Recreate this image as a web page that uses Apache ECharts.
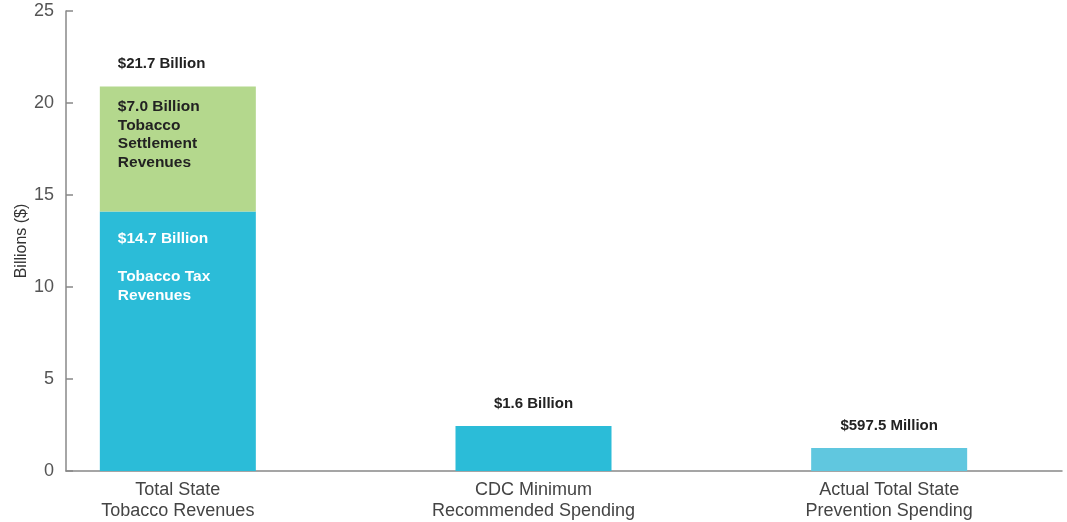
<!DOCTYPE html>
<html>
<head>
<meta charset="utf-8">
<script src="https://cdn.jsdelivr.net/npm/echarts@6/dist/echarts.min.js"></script>
<style>
  html, body { margin: 0; padding: 0; background: #fff; }
  #chartsDiv { width: 1067px; height: 522px; }
</style>
</head>
<body>
<div id="chartsDiv"></div>
<script>
// data
var categories = ['Total State\nTobacco Revenues', 'CDC Minimum\nRecommended Spending', 'Actual Total State\nPrevention Spending']
var taxValues = [14.1, '-', '-']
var settlementValues = [6.8, '-', '-']
var spendingValues = ['-', 2.45, 1.25]
var totalLabels = ['$21.7 Billion', '$1.6 Billion', '$597.5 Million']
var taxLabel = '$14.7 Billion\n\nTobacco Tax\nRevenues'
var settlementLabel = '$7.0 Billion\nTobacco\nSettlement\nRevenues'
var yTicks = { min: 0, max: 25, interval: 5 }

var font = 'Liberation Sans, Arial, Helvetica, sans-serif'
var realChart = echarts.init(document.getElementById('chartsDiv'), null, { renderer: 'canvas' })

var option = {
  backgroundColor: '#fff',
  animation: false,
  grid: [
    // axes frame
    { left: 66, right: 5, top: 11, bottom: 51 },
    // bars, full width so the categories spread like in the picture
    { left: 0, right: 0, top: 11, bottom: 51 }
  ],
  xAxis: [
    {
      gridIndex: 0,
      type: 'value',
      min: 0,
      max: 1,
      axisLine: { show: true, lineStyle: { color: '#888', width: 1.5 } },
      axisTick: { show: false },
      axisLabel: { show: false },
      splitLine: { show: false }
    },
    {
      gridIndex: 1,
      type: 'category',
      data: categories,
      axisLine: { show: false },
      axisTick: { show: false },
      axisLabel: {
        margin: 9,
        color: '#444',
        fontFamily: font,
        fontSize: 18,
        lineHeight: 21
      }
    }
  ],
  yAxis: [
    {
      gridIndex: 0,
      type: 'value',
      min: yTicks.min,
      max: yTicks.max,
      interval: yTicks.interval,
      name: 'Billions ($)',
      nameLocation: 'middle',
      nameGap: 36,
      nameMoveOverlap: false,
      nameTextStyle: { color: '#333', fontFamily: font, fontSize: 16 },
      axisLine: { show: true, lineStyle: { color: '#888', width: 1.5 } },
      axisTick: { show: true, inside: true, length: 7, lineStyle: { color: '#888', width: 1.5 } },
      axisLabel: { margin: 12, color: '#555', fontFamily: font, fontSize: 18 },
      splitLine: { show: false }
    },
    {
      gridIndex: 1,
      type: 'value',
      min: yTicks.min,
      max: yTicks.max,
      show: false
    }
  ],
  series: [
    {
      name: 'Tobacco Tax Revenues',
      type: 'bar',
      xAxisIndex: 1,
      yAxisIndex: 1,
      stack: 'total',
      barWidth: 156,
      data: taxValues,
      itemStyle: { color: '#2bbcd8' },
      label: {
        show: true,
        position: [18, 18],
        formatter: taxLabel,
        color: '#fff',
        fontFamily: font,
        fontWeight: 'bold',
        fontSize: 15.5,
        lineHeight: 19
      }
    },
    {
      name: 'Tobacco Settlement Revenues',
      type: 'bar',
      xAxisIndex: 1,
      yAxisIndex: 1,
      stack: 'total',
      barWidth: 156,
      data: settlementValues,
      itemStyle: { color: '#b4d88d' },
      label: {
        show: true,
        position: [18, 11],
        formatter: settlementLabel,
        color: '#222',
        fontFamily: font,
        fontWeight: 'bold',
        fontSize: 15.5,
        lineHeight: 18.7
      }
    },
    {
      name: 'Spending',
      type: 'bar',
      xAxisIndex: 1,
      yAxisIndex: 1,
      stack: 'total',
      barWidth: 156,
      data: spendingValues.map(function(v, i) {
        return { value: v, itemStyle: { color: i === 2 ? '#60c7df' : '#2bbcd8' } }
      }),
      label: { show: false }
    },
    {
      // zero height bars on top of each stack, only to carry the totals
      name: 'Totals',
      type: 'bar',
      xAxisIndex: 1,
      yAxisIndex: 1,
      stack: 'total',
      barWidth: 156,
      data: totalLabels.map(function(t, i) {
        // the first total sits left aligned with the texts inside its bar
        return i === 0 ? { value: 0, label: { position: [18, -30] } } : 0
      }),
      itemStyle: { color: 'rgba(0,0,0,0)' },
      label: {
        show: true,
        position: 'top',
        distance: 15,
        formatter: function(p) { return totalLabels[p.dataIndex] },
        color: '#222',
        fontFamily: font,
        fontWeight: 'bold',
        fontSize: 15
      }
    }
  ]
}

realChart.setOption(option)
</script>
</body>
</html>
